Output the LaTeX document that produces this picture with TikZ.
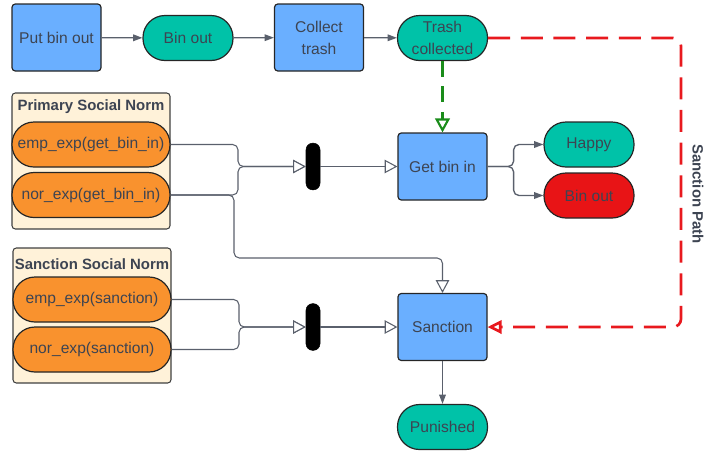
\documentclass[tikz,border=0pt]{standalone}
\usepackage{fontspec}
\setmainfont{Liberation Sans}
\usetikzlibrary{arrows.meta}
\definecolor{boxblue}{HTML}{6AAFFF}
\definecolor{tealc}{HTML}{00C2A8}
\definecolor{binred}{HTML}{E81416}
\definecolor{orng}{HTML}{F9922E}
\definecolor{cream}{HTML}{FFF2D9}
\definecolor{txt}{HTML}{3D4452}
\definecolor{conn}{HTML}{5A606C}
\definecolor{sred}{HTML}{E8191E}
\definecolor{sgreen}{HTML}{1A8C1A}
\begin{document}
\begin{tikzpicture}[x=0.75pt,y=-0.75pt,
  font=\fontsize{11.7}{16.5}\selectfont,
  base/.style={draw=black!85, line width=0.9pt, text=txt, align=center, inner sep=0pt},
  act/.style={base, fill=boxblue, rounded corners=2.5pt, minimum width=66.75pt, minimum height=50.25pt},
  state/.style={base, rounded corners=16.5pt, minimum width=67.5pt, minimum height=33.75pt},
  norm/.style={base, fill=orng, rounded corners=16.5pt, minimum width=118.5pt, minimum height=33.75pt},
  container/.style={draw=black!75, line width=0.8pt, fill=cream, rounded corners=2.5pt, inner sep=0pt},
  title/.style={text=txt, font=\bfseries\fontsize{11.2}{13}\selectfont, inner sep=0pt},
  bar/.style={fill=black, draw=black, rounded corners=5pt, minimum width=10.5pt, minimum height=35pt, inner sep=0pt},
  fa/.style={draw=conn, line width=1pt, -{Triangle[length=7pt,width=5pt]}},
  oa/.style={draw=conn, line width=0.8pt, rounded corners=4pt, -{Triangle[open,length=9.5pt,width=10pt,fill=white]}}
]
\useasboundingbox (0,0) rectangle (706,454);

% containers
\node[container, minimum width=118.5pt, minimum height=102pt] (psn) at (91,161) {};
\node[title] (psnt) at (91,107) {Primary Social Norm};
\node[container, minimum width=118.5pt, minimum height=101.25pt] (ssn) at (92,315.5) {};
\node[title] (ssnt) at (92,264) {Sanction Social Norm};

% nodes
\node[act] (put) at (56.5,37.5) {Put bin out};
\node[state, fill=tealc] (binout) at (188,38) {Bin out};
\node[act] (collect) at (319,37.5) {Collect\\trash};
\node[state, fill=tealc] (trash) at (442.5,38) {Trash\\collected};
\node[act] (getbin) at (442.5,166.5) {Get bin in};
\node[state, fill=tealc] (happy) at (589,144.5) {Happy};
\node[state, fill=binred] (binout2) at (589,195.5) {Bin out};
\node[act] (sanction) at (442.5,327) {Sanction};
\node[state, fill=tealc] (punished) at (442.5,427) {Punished};

\node[norm] (emp1) at (91,144.5) {emp\_exp(get\_bin\_in)};
\node[norm] (nor1) at (91,195) {nor\_exp(get\_bin\_in)};
\node[norm] (emp2) at (92,299.5) {emp\_exp(sanction)};
\node[norm] (nor2) at (92,349.5) {nor\_exp(sanction)};

\node[bar] (bar1) at (313,166.5) {};
\node[bar] (bar2) at (313,327) {};

\node[title, rotate=-90] (spath) at (698,194) {Sanction Path};

% junction coordinates
\coordinate (j1) at (238,166.5);
\coordinate (j2) at (239,327);
\coordinate (j3) at (234,258);
\coordinate (rcorner) at (681,38);

% connectors
\draw[fa] (put) -- (binout);
\draw[fa] (binout) -- (collect);
\draw[fa] (collect) -- (trash);
\draw[fa, rounded corners=4pt] (getbin.east) -- ++(26,0) |- (happy.west);
\draw[fa, rounded corners=4pt] (getbin.east) -- ++(26,0) |- (binout2.west);
\draw[fa] (sanction) -- (punished);

\draw[oa] (emp1.east) -| (j1) -- (bar1.west);
\draw[oa] (nor1.east) -| (j1) -- (bar1.west);
\draw[oa] (nor1.east) -| (j3) -| (sanction.north);
\draw[oa] (bar1.east) -- (getbin.west);

\draw[oa] (emp2.east) -| (j2) -- (bar2.west);
\draw[oa] (nor2.east) -| (j2) -- (bar2.west);
\draw[oa] (bar2.east) -- (sanction.west);

\draw[sgreen, line width=1.6pt, dash pattern=on 12pt off 7pt,
  -{Triangle[open,length=10.5pt,width=11pt,fill=white]}] (trash.south) -- (getbin.north);
\draw[sred, line width=2pt, dash pattern=on 16.5pt off 8pt, rounded corners=6pt,
  -{Triangle[open,length=10.5pt,width=10pt,fill=white]}] (trash.east) -- (rcorner) |- (sanction.east);
\end{tikzpicture}
\end{document}
